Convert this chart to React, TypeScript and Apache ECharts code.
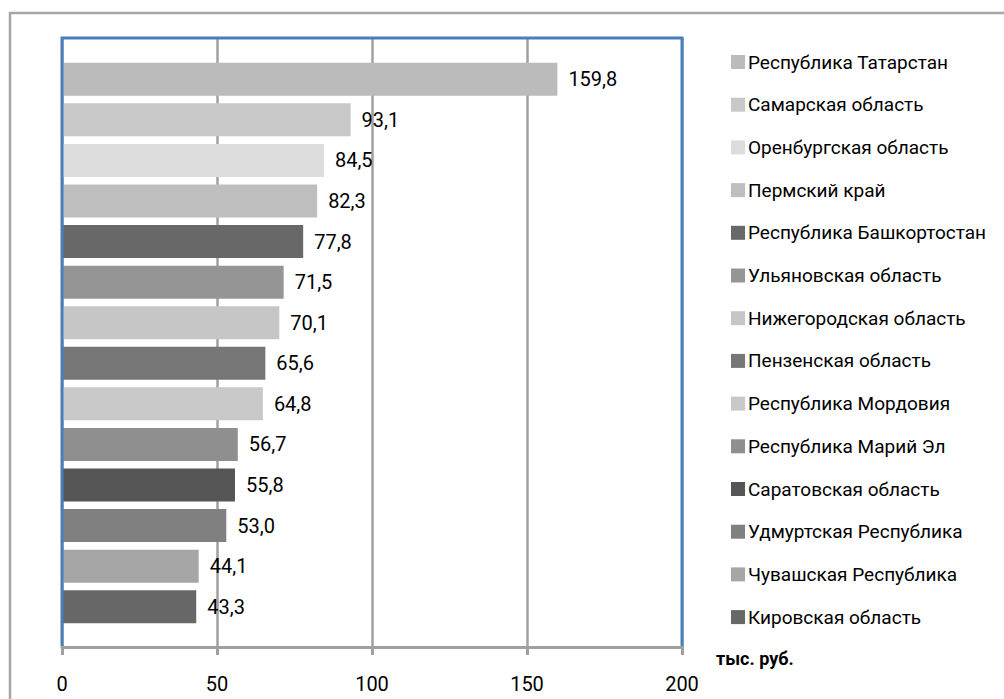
import React, { useEffect, useRef } from "react";
import * as echarts from "echarts";

const categories = [
  "Республика Татарстан",
  "Самарская область",
  "Оренбургская область",
  "Пермский край",
  "Республика Башкортостан",
  "Ульяновская область",
  "Нижегородская область",
  "Пензенская область",
  "Республика Мордовия",
  "Республика Марий Эл",
  "Саратовская область",
  "Удмуртская Республика",
  "Чувашская Республика",
  "Кировская область",
];
const values = [159.8, 93.1, 84.5, 82.3, 77.8, 71.5, 70.1, 65.6, 64.8, 56.7, 55.8, 53.0, 44.1, 43.3];
const colors = [
  "#bbbbbb", "#c8c8c8", "#dcdcdc", "#bebebe", "#686868", "#959595", "#c6c6c6",
  "#777777", "#c8c8c8", "#8f8f8f", "#555555", "#808080", "#a6a6a6", "#676767",
];
const xTicks = [0, 50, 100, 150, 200];
const unitLabel = "тыс. руб.";

const FONT = "Roboto, 'Liberation Sans', sans-serif";

export default function App() {
  const ref = useRef<HTMLDivElement>(null);
  useEffect(() => {
    if (!ref.current) return;
    const chart = echarts.init(ref.current, null, { renderer: "svg" });
    const series = categories.map((name, i) => ({
      name,
      type: "bar",
      stack: "all",
      xAxisIndex: 1,
      yAxisIndex: 1,
      barWidth: 33,
      itemStyle: { color: colors[i] },
      label: {
        show: true,
        position: "right",
        distance: 11,
        color: "#000",
        fontFamily: FONT,
        fontSize: 20,
        formatter: (p: any) => Number(p.value).toFixed(1).replace(".", ","),
      },
      data: categories.map((_, j) => (j === i ? values[i] : "-")),
    }));
    chart.setOption({
      animation: false,
      backgroundColor: "#fff",
      grid: [
        { left: 62, top: 38, width: 620, height: 609 },
        { left: 62, top: 59, width: 620, height: 568 },
      ],
      xAxis: [
        {
          gridIndex: 0,
          type: "value",
          min: xTicks[0],
          max: xTicks[xTicks.length - 1],
          interval: xTicks[1] - xTicks[0],
          axisLine: { show: true, lineStyle: { color: "#a0a0a0", width: 3 } },
          axisTick: { show: true, length: 8, lineStyle: { color: "#a0a0a0", width: 3 } },
          splitLine: { show: true, lineStyle: { color: "#a0a0a0", width: 2.5 } },
          axisLabel: { color: "#000", fontFamily: FONT, fontSize: 20, margin: 27 },
        },
        { gridIndex: 1, type: "value", min: xTicks[0], max: xTicks[xTicks.length - 1], show: false },
      ],
      yAxis: [
        { gridIndex: 0, type: "value", show: false, min: 0, max: 1 },
        { gridIndex: 1, type: "category", data: categories, inverse: true, show: false },
      ],
      legend: {
        orient: "vertical",
        left: 726,
        top: 46,
        icon: "rect",
        itemWidth: 14,
        itemHeight: 14,
        itemGap: 20.7,
        data: categories,
        textStyle: { color: "#000", fontFamily: FONT, fontSize: 19, lineHeight: 22, padding: [0, 0, 0, -2] },
      },
      graphic: [
        { type: "rect", z: 100, shape: { x: 10, y: 13, width: 1000, height: 700 }, style: { fill: "none", stroke: "#a6a6a6", lineWidth: 2.5 }, silent: true },
        { type: "polyline", z: 100, shape: { points: [[62, 646], [62, 38], [682, 38], [682, 646]] }, style: { fill: "none", stroke: "#4a7ebb", lineWidth: 3 }, silent: true },
        { type: "text", z: 100, left: 716, top: 649, style: { text: unitLabel, fill: "#000", font: `bold 18px ${FONT}` } },
      ],
      series,
    });
    return () => chart.dispose();
  }, []);
  return <div ref={ref} style={{ position: "fixed", left: 0, top: 0, width: 1004, height: 699 }} />;
}
